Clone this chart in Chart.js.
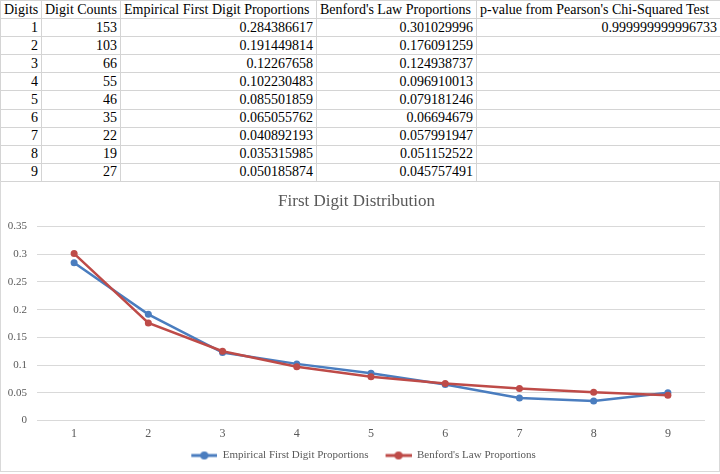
<!DOCTYPE html>
<html>
<head>
<meta charset="utf-8">
<script src="https://cdn.jsdelivr.net/npm/chart.js@4.4.1/dist/chart.umd.min.js"></script>
<style>
  body { margin: 0; background: #fff; width: 720px; height: 474px; overflow: hidden; position: relative; }
  table { position: absolute; left: 0; top: 0; width: 720px; height: 182px; border-collapse: collapse; font-family: "Liberation Serif", serif; font-size: 14px; color: #000; table-layout: fixed; }
  td { border: 1px solid #d4d4d4; padding: 0 3px; white-space: nowrap; overflow: hidden; line-height: 16px; }
  td.num { text-align: right; }
  #caja { position: absolute; left: 0; top: 181px; width: 718px; height: 290px; border: 1px solid #d9d9d9; border-top: none; }
</style>
</head>
<body>
<table id="tabla"></table>
<div id="caja"><canvas id="graficoDigitos"></canvas></div>
<script>
const digitos = [1, 2, 3, 4, 5, 6, 7, 8, 9]
const conteos = [153, 103, 66, 55, 46, 35, 22, 19, 27]
const empiricas = [0.284386617, 0.191449814, 0.12267658, 0.102230483, 0.085501859, 0.065055762, 0.040892193, 0.035315985, 0.050185874]
const benford = [0.301029996, 0.176091259, 0.124938737, 0.096910013, 0.079181246, 0.06694679, 0.057991947, 0.051152522, 0.045757491]
const valorP = 0.999999999996733
const encabezados = ["Digits", "Digit Counts", "Empirical First Digit Proportions", "Benford's Law Proportions", "p-value from Pearson's Chi-Squared Test"]
const anchos = [41, 79, 196, 160, 244]

const azul = '#4A7DBF'
const rojo = '#BE4B48'
const gris = '#595959'

// tabla de arriba
const tabla = document.getElementById('tabla')
let html = '<colgroup>' + anchos.map(a => `<col style="width:${a}px">`).join('') + '</colgroup>'
html += '<tr>' + encabezados.map(t => `<td>${t}</td>`).join('') + '</tr>'
digitos.forEach((d, i) => {
  html += `<tr><td class="num">${d}</td><td class="num">${conteos[i]}</td><td class="num">${empiricas[i]}</td><td class="num">${benford[i]}</td><td class="num">${i === 0 ? valorP : ''}</td></tr>`
})
tabla.innerHTML = html

// icono de leyenda: linea con punto, con hueco a la izquierda
function iconoLeyenda(color) {
  const c = document.createElement('canvas')
  c.width = 40
  c.height = 10
  const ctx = c.getContext('2d')
  ctx.strokeStyle = color
  ctx.lineWidth = 3
  ctx.beginPath()
  ctx.moveTo(14, 5)
  ctx.lineTo(40, 5)
  ctx.stroke()
  ctx.fillStyle = color
  ctx.beginPath()
  ctx.arc(27, 5, 4, 0, Math.PI * 2)
  ctx.fill()
  return c
}

const fuente = { family: '"Liberation Serif", serif', size: 12 }
const fuenteChica = { family: '"Liberation Serif", serif', size: 11 }

const grafico = new Chart(document.getElementById('graficoDigitos'), {
  type: 'line',
  data: {
    labels: digitos.map(String),
    datasets: [{
      label: 'Empirical First Digit Proportions',
      data: empiricas,
      borderColor: azul,
      backgroundColor: azul,
      borderWidth: 2.5,
      pointRadius: 3.5,
      pointBorderWidth: 0,
      tension: 0,
      order: 1
    }, {
      label: "Benford's Law Proportions",
      data: benford,
      borderColor: rojo,
      backgroundColor: rojo,
      borderWidth: 2.5,
      pointRadius: 3.5,
      pointBorderWidth: 0,
      tension: 0,
      order: 0
    }]
  },
  options: {
    responsive: true,
    maintainAspectRatio: false,
    animation: false,
    layout: { padding: { left: 7, right: 14, bottom: 0 } },
    plugins: {
      title: {
        display: true,
        text: 'First Digit Distribution',
        color: gris,
        font: { family: '"Liberation Serif", serif', size: 17, weight: 'normal' },
        padding: { top: 10, bottom: 15 }
      },
      legend: {
        position: 'bottom',
        labels: {
          color: gris,
          font: fuenteChica,
          usePointStyle: true,
          pointStyleWidth: 40,
          padding: 3,
          generateLabels: chart => chart.data.datasets.map((ds, i) => ({
            text: ds.label,
            fontColor: gris,
            pointStyle: iconoLeyenda(ds.borderColor),
            lineWidth: 0,
            strokeStyle: 'transparent',
            fillStyle: ds.borderColor,
            datasetIndex: i
          }))
        }
      },
      tooltip: { enabled: false }
    },
    scales: {
      x: {
        offset: true,
        grid: { display: false, drawTicks: false },
        border: { display: false },
        ticks: { color: gris, font: fuente, padding: 6 }
      },
      y: {
        min: 0,
        max: 0.35,
        afterFit: escala => { escala.width = 29 },
        grid: { color: '#d9d9d9', drawTicks: false },
        border: { display: false },
        ticks: {
          stepSize: 0.05,
          color: gris,
          font: fuenteChica,
          padding: 10,
          callback: v => String(+v.toFixed(2))
        }
      }
    }
  }
})
</script>
</body>
</html>
